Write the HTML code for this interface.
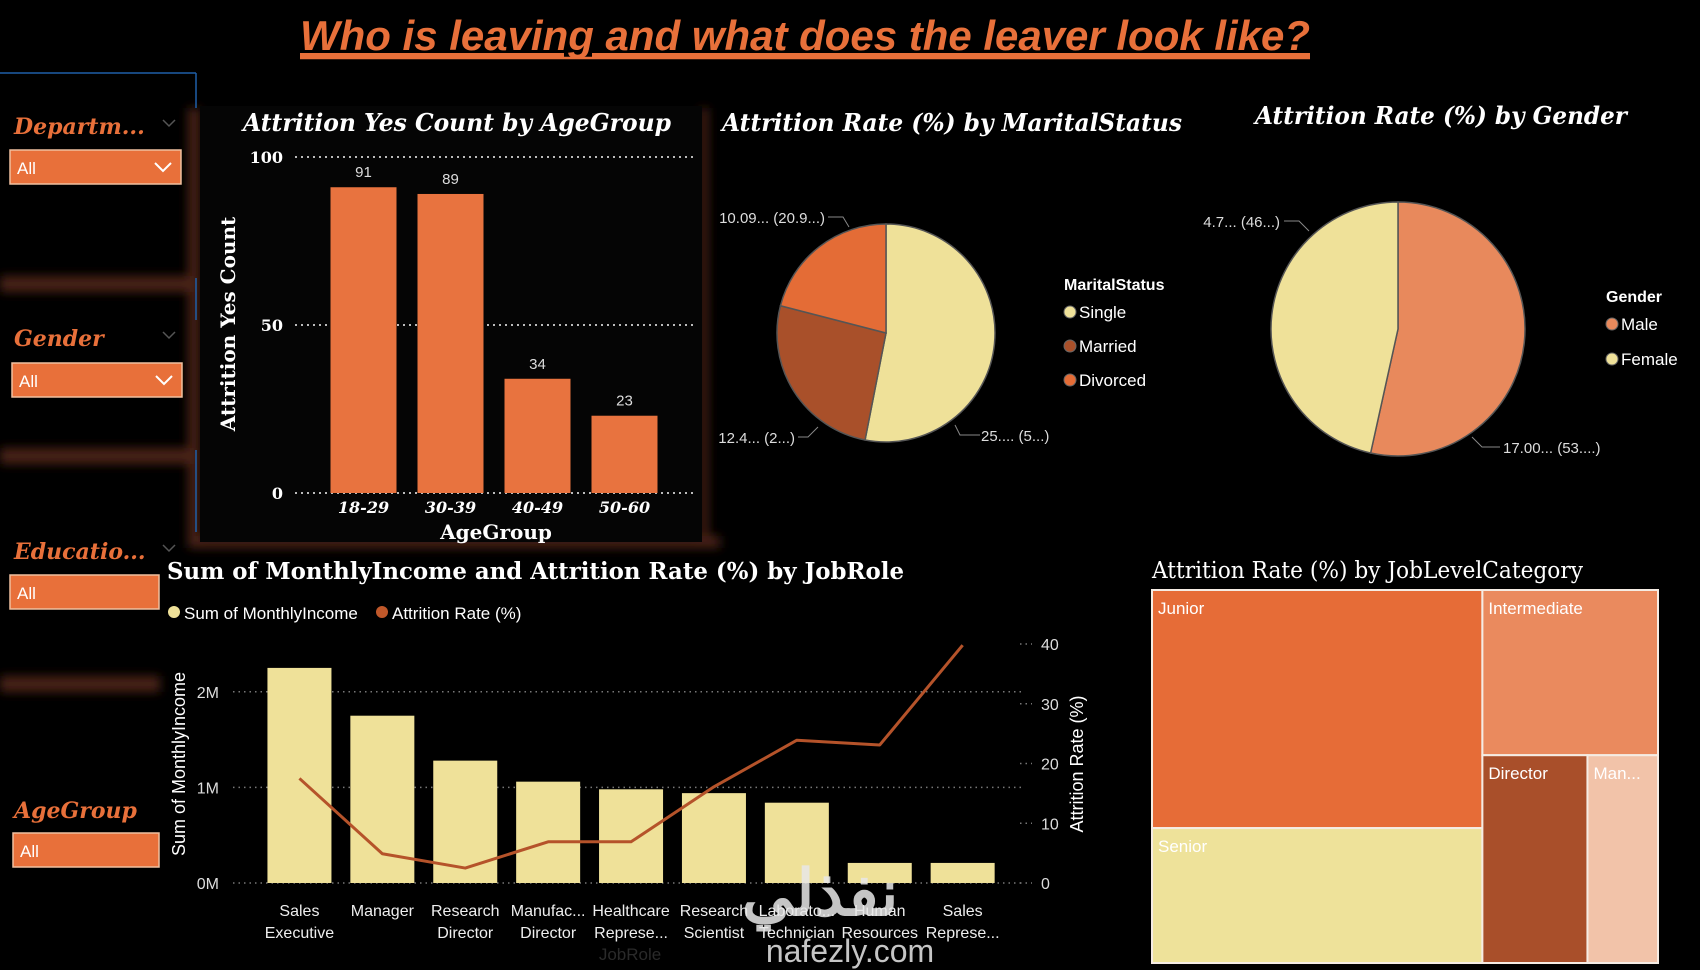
<!DOCTYPE html>
<html><head><meta charset="utf-8"><style>
html,body{margin:0;padding:0;background:#000;}
svg{display:block;}
text{font-family:"Liberation Sans",sans-serif;}
.serif{font-family:"DejaVu Serif","Liberation Serif",serif;}
</style></head><body>
<svg id="root" width="1700" height="970" viewBox="0 0 1700 970" xmlns="http://www.w3.org/2000/svg">
<defs>
<filter id="blur" x="-20%" y="-50%" width="140%" height="200%"><feGaussianBlur stdDeviation="5"/></filter>
</defs>
<rect width="1700" height="970" fill="#000"/>
<!-- decorative shadows -->
<g filter="url(#blur)" fill="#4a2212">
<rect x="0" y="276" width="195" height="16"/>
<rect x="0" y="448" width="195" height="16"/>
<rect x="0" y="676" width="160" height="16"/>
<rect x="188" y="108" width="12" height="440"/>
<rect x="195" y="536" width="525" height="12"/>
<rect x="700" y="108" width="8" height="440"/>
</g>
<rect x="200" y="106" width="502" height="436" fill="#050505"/>
<g stroke="#1f5fa8" stroke-width="1.5">
<line x1="0" y1="73" x2="196" y2="73"/>
<line x1="196" y1="73" x2="196" y2="108"/>
<line x1="196" y1="278" x2="196" y2="320"/>
<line x1="196" y1="450" x2="196" y2="532"/>
</g>
<!-- title -->
<text x="300" y="50" font-size="42" font-weight="bold" font-style="italic" fill="#E8703A" textLength="1010" lengthAdjust="spacingAndGlyphs" text-decoration="underline">Who is leaving and what does the leaver look like?</text>
<line x1="300" y1="58" x2="1310" y2="58" stroke="#E8703A" stroke-width="2.5"/>
<g id="slicers"></g>
<g id="barchart"></g>
<g id="marital"></g>
<g id="gender"></g>
<g id="combo"></g>
<g id="treemap"></g>
<g opacity="0.85">
<text x="820" y="915" font-size="64" font-weight="bold" fill="#e8e8e8" text-anchor="middle" font-family="'Noto Sans CJK SC','DejaVu Sans',sans-serif">نفذلي</text>
<text x="850" y="962" font-size="32" fill="#e8e8e8" text-anchor="middle">nafezly.com</text>
</g>
</svg>
<script>
const NS='http://www.w3.org/2000/svg';
function mk(parent,tag,attrs,txt){const e=document.createElementNS(NS,tag);for(const k in attrs)e.setAttribute(k,attrs[k]);if(txt!==undefined)e.textContent=txt;parent.appendChild(e);return e;}

// ---------- slicers ----------
const slicerLabels=['Departm...','Gender','Educatio...','AgeGroup'];
const slicerValues=['All','All','All','All'];
(function(){
  const g=document.getElementById('slicers');
  const layout=[{ly:134,bx:10,by:150,bw:171,chev:true,lc:true},{ly:346,bx:12,by:363,bw:170,chev:true,lc:true},{ly:559,bx:10,by:575,bw:149,chev:false,lc:true},{ly:818,bx:13,by:833,bw:146,chev:false,lc:false}];
  slicerLabels.forEach((lab,i)=>{
    const L=layout[i];
    const t=mk(g,'text',{x:14,y:L.ly,'font-size':22,'font-weight':'bold','font-style':'italic',fill:'#E8703A',class:'serif'},lab);
    
    
    if(L.lc){const c=mk(g,'path',{d:`M163 ${L.ly-14} l6 6 l6 -6`,fill:'none',stroke:'#555','stroke-width':1.5});
      
      }
    const r=mk(g,'rect',{x:L.bx,y:L.by,width:L.bw,height:34,fill:'#E8703A',stroke:'#f0c0a0','stroke-width':1.5});
    
    
    const v=mk(g,'text',{x:L.bx+7,y:L.by+24,'font-size':17,fill:'#fff'},slicerValues[i]);
    
    
    if(L.chev){const c=mk(g,'path',{d:`M${L.bx+L.bw-26} ${L.by+13} l8 8 l8 -8`,fill:'none',stroke:'#fff','stroke-width':2});
      
      }
  });
})();

// ---------- bar chart ----------
const ageGroups=['18-29','30-39','40-49','50-60'];
const ageCounts=[91,89,34,23];
const ageTicks=[0,50,100];
(function(){
  const g=document.getElementById('barchart');
  const x0=320,step=87,bw=66,yb=493,yt=157,max=100;
  const y=v=>yb-(v/max)*(yb-yt);
  const xc=i=>x0+step*(i+0.5);
  const t=mk(g,'text',{x:243,y:131,'font-size':24,'font-weight':'bold','font-style':'italic',fill:'#fff',class:'serif',textLength:428,lengthAdjust:'spacingAndGlyphs'},'Attrition Yes Count by AgeGroup');
  
  
  ageTicks.forEach(v=>{
    const l=mk(g,'line',{x1:295,x2:697,y1:y(v),y2:y(v),stroke:'#bbb','stroke-width':2,'stroke-dasharray':'2 4'});
    
    
    const tl=mk(g,'text',{x:283,y:y(v)+6,'font-size':16,'font-weight':'bold',fill:'#fff','text-anchor':'end',class:'serif'},String(v));
    
    
  });
  ageGroups.forEach((c,i)=>{
    const r=mk(g,'rect',{x:xc(i)-bw/2,y:y(ageCounts[i]),width:bw,height:yb-y(ageCounts[i]),fill:'#E8733F'});
    
    
    const vl=mk(g,'text',{x:xc(i),y:y(ageCounts[i])-10,'font-size':15,fill:'#ddd','text-anchor':'middle'},String(ageCounts[i]));
    
    
    const xl=mk(g,'text',{x:xc(i),y:513,'font-size':16,'font-weight':'bold','font-style':'italic',fill:'#fff','text-anchor':'middle',class:'serif'},c);
    
    
  });
  const xt=mk(g,'text',{x:496,y:539,'font-size':20,'font-weight':'bold',fill:'#fff','text-anchor':'middle',class:'serif'},'AgeGroup');
  
  
  const yt2=mk(g,'text',{x:0,y:0,'font-size':20,'font-weight':'bold',fill:'#fff','text-anchor':'middle',class:'serif',transform:'translate(235,324) rotate(-90)'},'Attrition Yes Count');
  
  
})();

// ---------- pie helper ----------
function pie(g,cx,cy,r,vals,colors,names){
  const tot=vals.reduce((a,b)=>a+b,0);let a=0;const mids=[];
  vals.forEach((v,i)=>{
    const a0=a,a1=a+v/tot*2*Math.PI;a=a1;
    const p=t=>[cx+r*Math.sin(t),cy-r*Math.cos(t)];
    const [x0,y0]=p(a0),[x1,y1]=p(a1);
    const path=mk(g,'path',{d:`M${cx} ${cy} L${x0} ${y0} A${r} ${r} 0 ${a1-a0>Math.PI?1:0} 1 ${x1} ${y1} Z`,fill:colors[i],stroke:'#555','stroke-width':1.5});
    
    
    mids.push((a0+a1)/2);
  });
  return mids;
}
function legend(g,x,y,title,names,colors,gap){
  const t=mk(g,'text',{x:x,y:y,'font-size':16,'font-weight':'bold',fill:'#fff'},title);
  
  
  names.forEach((n,i)=>{
    const yy=y+28+i*gap;
    const c=mk(g,'circle',{cx:x+6,cy:yy-6,r:6,fill:colors[i],stroke:'#666','stroke-width':1});
    
    
    const l=mk(g,'text',{x:x+15,y:yy,'font-size':17,fill:'#fff'},n);
    
    
  });
}

// ---------- marital pie ----------
const maritalNames=['Single','Married','Divorced'];
const maritalRates=[25.53,12.48,10.09];
const maritalLabels=['25.... (5...)','12.4... (2...)','10.09... (20.9...)'];
(function(){
  const g=document.getElementById('marital');
  const t=mk(g,'text',{x:722,y:131,'font-size':24,'font-weight':'bold','font-style':'italic',fill:'#fff',class:'serif',textLength:460,lengthAdjust:'spacingAndGlyphs'},'Attrition Rate (%) by MaritalStatus');
  
  
  const cols=['#EFE199','#A9502A','#E46C36'];
  pie(g,886,333,109,maritalRates,cols,maritalNames);
  const L=[{lx:[955,960,980],ly:[425,435,435],tx:981,ty:441,anchor:'start'},
           {lx:[818,808,798],ly:[427,437,437],tx:795,ty:443,anchor:'end'},
           {lx:[849,843,828],ly:[227,217,217],tx:825,ty:223,anchor:'end'}];
  maritalLabels.forEach((s,i)=>{
    const d=L[i];
    const pl=mk(g,'polyline',{points:d.lx.map((x,j)=>x+','+d.ly[j]).join(' '),fill:'none',stroke:'#888','stroke-width':1});
    
    
    const tx=mk(g,'text',{x:d.tx,y:d.ty,'font-size':15,fill:'#ddd','text-anchor':d.anchor},s);
    
    
  });
  legend(g,1064,290,'MaritalStatus',maritalNames,cols,34);
})();

// ---------- gender pie ----------
const genderNames=['Male','Female'];
const genderRates=[17.0,14.8];
const genderLabels=['17.00... (53....)','4.7... (46...)'];
(function(){
  const g=document.getElementById('gender');
  const t=mk(g,'text',{x:1255,y:124,'font-size':24,'font-weight':'bold','font-style':'italic',fill:'#fff',class:'serif',textLength:372,lengthAdjust:'spacingAndGlyphs'},'Attrition Rate (%) by Gender');
  
  
  const cols=['#E8895C','#EFE199'];
  pie(g,1398,329,127,genderRates,cols,genderNames);
  const p1=mk(g,'polyline',{points:'1472,437 1482,447 1500,447',fill:'none',stroke:'#888','stroke-width':1});
  
  
  const p2=mk(g,'polyline',{points:'1309,231 1299,221 1284,221',fill:'none',stroke:'#888','stroke-width':1});
  
  
  const a=mk(g,'text',{x:1503,y:453,'font-size':15,fill:'#ddd'},genderLabels[0]);
  
  
  const b=mk(g,'text',{x:1280,y:227,'font-size':15,fill:'#ddd','text-anchor':'end'},genderLabels[1]);
  
  
  legend(g,1606,302,'Gender',genderNames,cols,35);
})();

// ---------- combo chart ----------
const jobRoles1=['Sales','Manager','Research','Manufac...','Healthcare','Research','Laborato...','Human','Sales'];
const jobRoles2=['Executive','','Director','Director','Represe...','Scientist','Technician','Resources','Represe...'];
const incomeValues=[2.25e6,1.75e6,1.28e6,1.06e6,0.98e6,0.94e6,0.84e6,0.21e6,0.21e6];
const attritionRates=[17.5,4.9,2.5,6.9,6.9,16.1,23.9,23.1,39.8];
const incomeTicks=[0,1e6,2e6];
const incomeTickLabels=['0M','1M','2M'];
const rateTicks=[0,10,20,30,40];
(function(){
  const g=document.getElementById('combo');
  const x0=258,step=82.9,bw=64,yb=883,yt=644,incMax=2.5e6,rateMax=40;
  const yl=v=>yb-v/incMax*(yb-yt);
  const yr=v=>yb-v/rateMax*(yb-yt);
  const xc=i=>x0+step*(i+0.5);
  const t=mk(g,'text',{x:167,y:579,'font-size':23,'font-weight':'bold',fill:'#fff',class:'serif',textLength:737,lengthAdjust:'spacingAndGlyphs'},'Sum of MonthlyIncome and Attrition Rate (%) by JobRole');
  
  
  const lc1=mk(g,'circle',{cx:174,cy:612,r:6,fill:'#EFE199'});
  
  
  const lt1=mk(g,'text',{x:184,y:619,'font-size':17,fill:'#fff'},'Sum of MonthlyIncome');
  
  
  const lc2=mk(g,'circle',{cx:382,cy:612,r:6,fill:'#C0582A'});
  
  
  const lt2=mk(g,'text',{x:392,y:619,'font-size':17,fill:'#fff'},'Attrition Rate (%)');
  
  
  incomeTicks.forEach((v,i)=>{
    const l=mk(g,'line',{x1:233,x2:1025,y1:yl(v),y2:yl(v),stroke:'#777','stroke-width':1.5,'stroke-dasharray':'1.5 4'});
    
    
    const tl=mk(g,'text',{x:219,y:yl(v)+6,'font-size':16,fill:'#ddd','text-anchor':'end'},incomeTickLabels[i]);
    
    
  });
  rateTicks.forEach(v=>{
    const l=mk(g,'line',{x1:1020,x2:1032,y1:yr(v),y2:yr(v),stroke:'#777','stroke-width':1.5,'stroke-dasharray':'1.5 4'});
    
    
    const tl=mk(g,'text',{x:1041,y:yr(v)+6,'font-size':16,fill:'#ddd'},String(v));
    
    
  });
  incomeValues.forEach((v,i)=>{
    const r=mk(g,'rect',{x:xc(i)-bw/2,y:yl(v),width:bw,height:yb-yl(v),fill:'#EFE199'});
    
    
    const a=mk(g,'text',{x:xc(i),y:916,'font-size':16,fill:'#eee','text-anchor':'middle'},jobRoles1[i]);
    
    
    const b=mk(g,'text',{x:xc(i),y:938,'font-size':16,fill:'#eee','text-anchor':'middle'},jobRoles2[i]);
    
    
  });
  const pts=attritionRates.map((v,i)=>xc(i)+','+yr(v)).join(' ');
  const pl=mk(g,'polyline',{points:pts,fill:'none',stroke:'#B5532A','stroke-width':3,'stroke-linejoin':'round'});
  
  
  const xt=mk(g,'text',{x:630,y:960,'font-size':17,fill:'#2a2a2a','text-anchor':'middle'},'JobRole');
  
  
  const y1t=mk(g,'text',{x:0,y:0,'font-size':18,fill:'#fff','text-anchor':'middle',transform:'translate(185,764) rotate(-90)'},'Sum of MonthlyIncome');
  
  
  const y2t=mk(g,'text',{x:0,y:0,'font-size':18,fill:'#fff','text-anchor':'middle',transform:'translate(1083,764) rotate(-90)'},'Attrition Rate (%)');
  
  
})();

// ---------- treemap ----------
const levelNames=['Junior','Senior','Intermediate','Director','Man...'];
const levelRates=[26.3,14.9,9.7,7.3,4.9];
(function(){
  const g=document.getElementById('treemap');
  const t=mk(g,'text',{x:1152,y:578,'font-size':23,fill:'#fff',class:'serif',textLength:431,lengthAdjust:'spacingAndGlyphs'},'Attrition Rate (%) by JobLevelCategory');
  
  
  const X=1152,Y=590,W=506,H=373;
  const cols=['#E66C37','#EEE29A','#EA8A5E','#A94F2A','#F2C3A9'];
  const tot=levelRates.reduce((a,b)=>a+b,0);
  const v=levelRates;
  const w1=W*(v[0]+v[1])/tot;
  const hJ=H*v[0]/(v[0]+v[1]);
  const rest=v[2]+v[3]+v[4];
  const hI=H*v[2]/rest;
  const wD=(W-w1)*v[3]/(v[3]+v[4]);
  const rects=[[X,Y,w1,hJ],[X,Y+hJ,w1,H-hJ],[X+w1,Y,W-w1,hI],[X+w1,Y+hI,wD,H-hI],[X+w1+wD,Y+hI,W-w1-wD,H-hI]];
  rects.forEach((r,i)=>{
    const e=mk(g,'rect',{x:r[0],y:r[1],width:r[2],height:r[3],fill:cols[i],stroke:'#f5ece4','stroke-width':2});
    
    
    const l=mk(g,'text',{x:r[0]+6,y:r[1]+24,'font-size':17,fill:'#fff'},levelNames[i]);
    
    
  });
})();
</script>
</body></html>
